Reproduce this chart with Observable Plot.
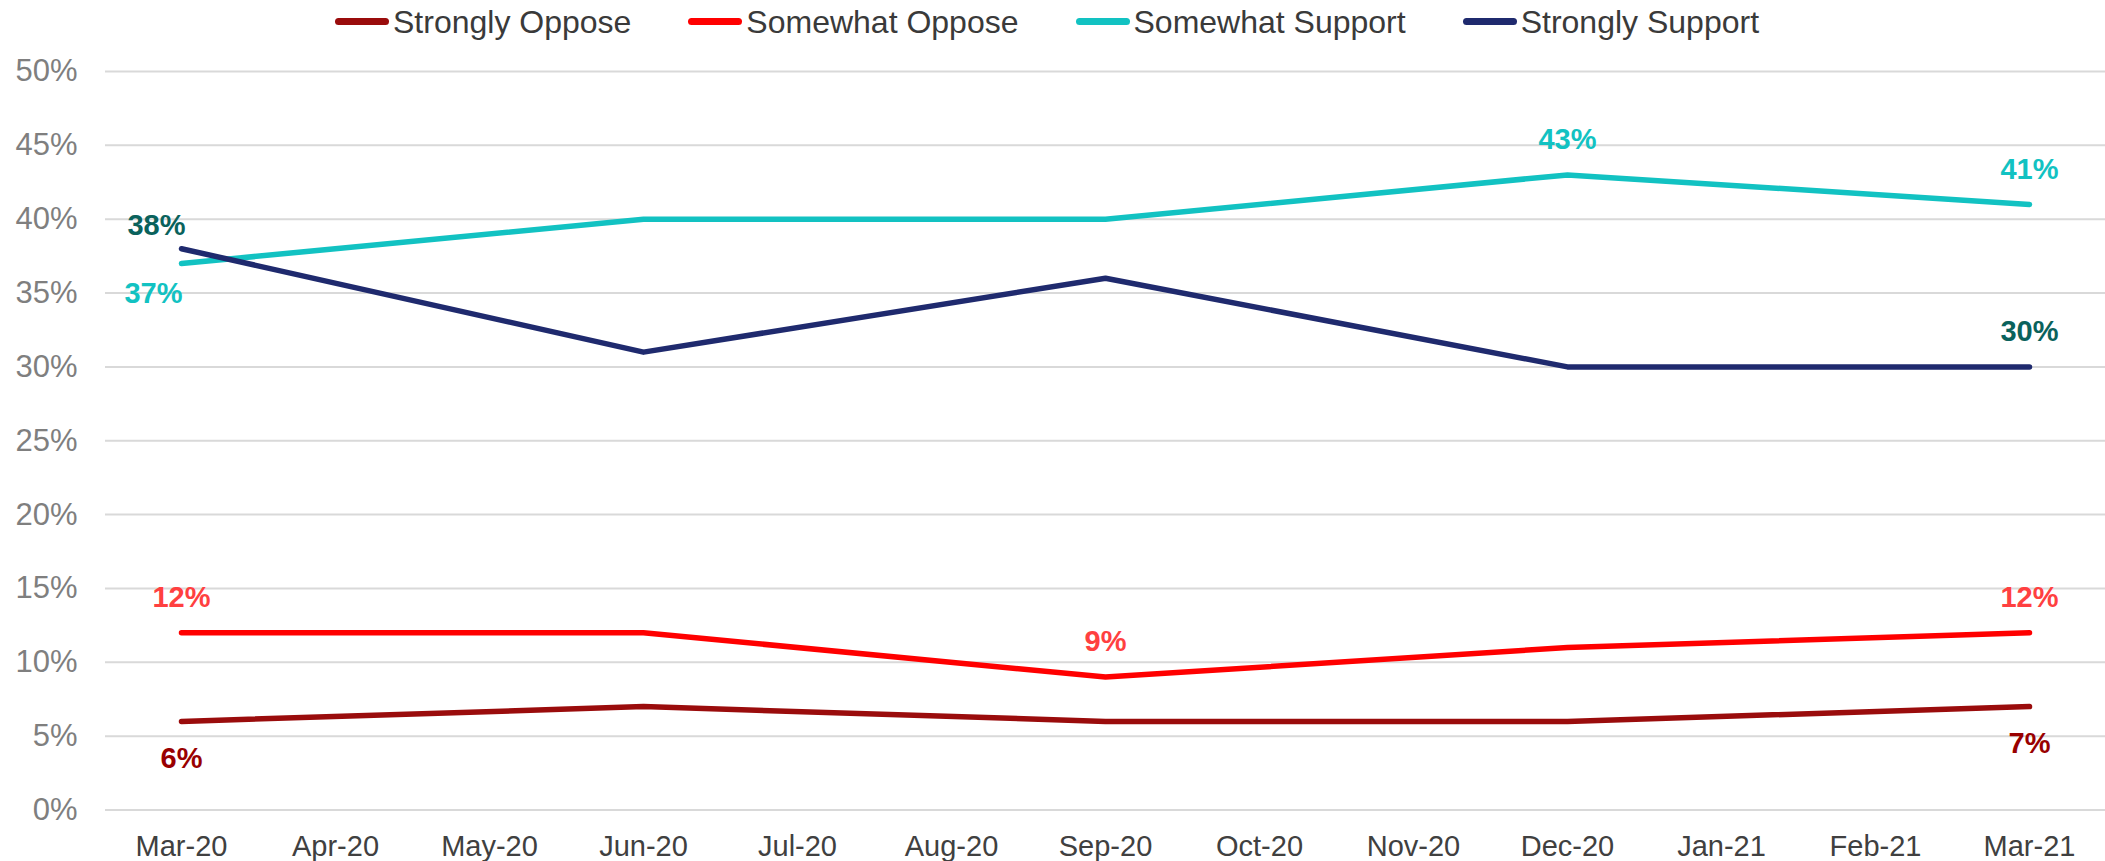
<!DOCTYPE html>
<html>
<head>
<meta charset="utf-8">
<script src="https://cdn.jsdelivr.net/npm/d3@7"></script>
<script src="https://cdn.jsdelivr.net/npm/@observablehq/plot@0.6"></script>
<style>
  html, body { margin: 0; padding: 0; background: #fff; }
  body { width: 2105px; height: 861px; overflow: hidden; font-family: "Liberation Sans", Arial, sans-serif; }
  #legend { box-sizing: border-box; height: 48px; padding-bottom: 5px; padding-right: 11px; display: flex; justify-content: center; align-items: center; gap: 57px; }
  .item { display: flex; align-items: center; font-size: 32px; line-height: 1; color: #3a3a3a; }
  .sw { width: 54px; height: 7px; border-radius: 4px; margin-right: 4px; }
</style>
</head>
<body>
<div id="legend"></div>
<div id="chart"></div>
<script>
// ---- data ----
const months = ["Mar-20","Apr-20","May-20","Jun-20","Jul-20","Aug-20","Sep-20","Oct-20","Nov-20","Dec-20","Jan-21","Feb-21","Mar-21"];
const surveyMonths = ["Mar-20","Jun-20","Sep-20","Dec-20","Mar-21"];
const seriesNames = ["Strongly Oppose","Somewhat Oppose","Somewhat Support","Strongly Support"];
const stronglyOppose  = [6, 7, 6, 6, 7];
const somewhatOppose  = [12, 12, 9, 11, 12];
const somewhatSupport = [37, 40, 40, 43, 41];
const stronglySupport = [38, 31, 36, 30, 30];
const yTicks = [0, 5, 10, 15, 20, 25, 30, 35, 40, 45, 50];
// which points carry a data label (month lists per series)
const labelMonths = {
  "Strongly Oppose": ["Mar-20", "Mar-21"],
  "Somewhat Oppose": ["Mar-20", "Sep-20", "Mar-21"],
  "Somewhat Support": ["Mar-20", "Dec-20", "Mar-21"],
  "Strongly Support": ["Mar-20", "Mar-21"]
};

// ---- styling ----
const lineColors = {
  "Strongly Oppose": "#9a0c0c",
  "Somewhat Oppose": "#ff0000",
  "Somewhat Support": "#12c2c2",
  "Strongly Support": "#1f2a6e"
};
const labelColors = {
  "Strongly Oppose": "#990000",
  "Somewhat Oppose": "#ff4040",
  "Somewhat Support": "#12c2c2",
  "Strongly Support": "#0a625c"
};
// label offsets (pixels) relative to the point
function offset(series, month) {
  if (month === "Mar-20" && series === "Strongly Support") return [-25, -23];
  if (month === "Mar-20" && series === "Somewhat Support") return [-28, 30];
  if (series === "Strongly Oppose") return [0, 37];
  return [0, -35];
}

const valuesBySeries = {
  "Strongly Oppose": stronglyOppose,
  "Somewhat Oppose": somewhatOppose,
  "Somewhat Support": somewhatSupport,
  "Strongly Support": stronglySupport
};
const rows = [];
for (const s of seriesNames) {
  valuesBySeries[s].forEach((v, i) => rows.push({series: s, month: surveyMonths[i], value: v}));
}
const labelRows = rows.filter(r => labelMonths[r.series].includes(r.month));

// legend
const legend = document.getElementById("legend");
for (const s of seriesNames) {
  const it = document.createElement("div");
  it.className = "item";
  const sw = document.createElement("div");
  sw.className = "sw";
  sw.style.background = lineColors[s];
  const tx = document.createElement("span");
  tx.textContent = s;
  it.appendChild(sw); it.appendChild(tx);
  legend.appendChild(it);
}

const font = "Liberation Sans, Arial, sans-serif";
const lineMarks = seriesNames.map(s => Plot.line(rows.filter(r => r.series === s), {
  x: "month", y: "value", stroke: lineColors[s], strokeWidth: 5.5, strokeLinecap: "round", strokeLinejoin: "round"
}));
const textMarks = labelRows.map(r => {
  const [dx, dy] = offset(r.series, r.month);
  return Plot.text([r], {
    x: "month", y: "value", text: d => d.value + "%",
    fill: labelColors[r.series], fontWeight: "bold", fontSize: 29,
    dx, dy
  });
});

const chart = Plot.plot({
  width: 2105,
  height: 813,
  marginLeft: 105,
  marginRight: 0,
  marginTop: 23,
  marginBottom: 51.5,
  style: {fontFamily: font, background: "#fff", overflow: "visible"},
  x: {type: "point", domain: months, padding: 0.476, label: null},
  y: {domain: [0, 50], label: null},
  marks: [
    Plot.gridY(yTicks, {stroke: "#d9d9d9", strokeWidth: 2, strokeOpacity: 1}),
    Plot.axisY(yTicks, {tickSize: 0, tickPadding: 28, tickFormat: d => d + "%", fontSize: 31, fill: "#7f7f7f", label: null}),
    Plot.axisX(months, {tickSize: 0, tickPadding: 25, fontSize: 29, fill: "#404040", label: null}),
    ...lineMarks,
    ...textMarks
  ]
});
document.getElementById("chart").appendChild(chart);
</script>
</body>
</html>
